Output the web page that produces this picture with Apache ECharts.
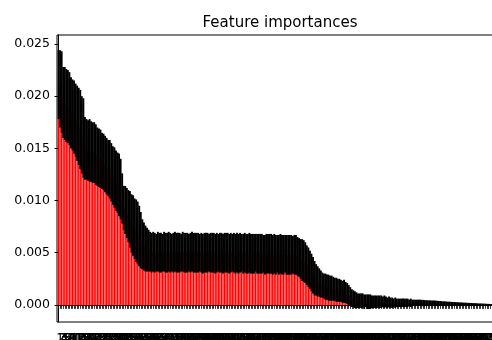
<!DOCTYPE html>
<html>
<head>
<meta charset="utf-8">
<script src="https://cdn.jsdelivr.net/npm/echarts@6/dist/echarts.min.js"></script>
<style>html,body{margin:0;padding:0;background:#fff}#c{width:492px;height:340px}</style>
</head>
<body>
<div id="c"></div>
<script>
// Sorted feature importances (mean)
const importances = [
  // 0-17
  0.0211,0.0207,0.0204,0.0194,0.0193,0.0191,0.0190,0.0188,0.0184,0.0182,
  0.0180,0.0177,0.0174,0.0171,0.0168,0.0163,0.0160,0.0150,
  // 18-41
  0.0149,0.0148,0.0148,0.0147,0.0146,0.0146,0.0144,0.0142,0.0141,0.0140,
  0.0138,0.0137,0.0135,0.0133,0.0131,0.0130,0.0127,0.0124,0.0122,0.0119,
  0.0117,0.0115,0.0111,0.0102,
  // 42-58
  0.0093,0.0091,0.0088,0.0085,0.0082,0.0078,0.0076,0.0073,0.0071,0.0069,
  0.0066,0.0062,0.0058,0.0056,0.0054,0.0053,0.0052,
  // 59-153
  0.0051,0.0050,0.0051,0.0050,0.0050,0.0051,0.0050,0.0050,0.0050,0.0051,
  0.0050,0.0050,0.0051,0.0050,0.0050,0.0050,0.0051,0.0050,0.0050,0.0050,
  0.0050,0.0051,0.0050,0.0050,0.0050,0.0050,0.0050,0.0051,0.0050,0.0050,
  0.0050,0.0050,0.0050,0.0050,0.0049,0.0050,0.0050,0.0050,0.0050,0.0050,
  0.0050,0.0050,0.0049,0.0050,0.0050,0.0050,0.0050,0.0049,0.0050,0.0050,
  0.0050,0.0049,0.0050,0.0050,0.0050,0.0049,0.0050,0.0049,0.0050,0.0050,
  0.0049,0.0050,0.0049,0.0049,0.0050,0.0049,0.0049,0.0049,0.0050,0.0049,
  0.0049,0.0049,0.0049,0.0049,0.0048,0.0049,0.0049,0.0049,0.0049,0.0048,
  0.0049,0.0048,0.0049,0.0048,0.0049,0.0048,0.0048,0.0049,0.0048,0.0048,
  0.0048,0.0048,0.0048,0.0048,0.0048,
  // 154-193
  0.00465,0.00455,0.0044,0.0043,0.0042,0.00405,0.0038,0.0036,0.00335,0.0031,
  0.00285,0.00255,0.0024,0.00225,0.00215,0.0020,0.0019,0.0018,0.00175,0.0017,
  0.00165,0.0016,0.0016,0.00155,0.0015,0.00145,0.0014,0.0014,0.00135,0.00125,
  0.0013,0.0012,0.0011,0.00095,0.0008,0.00065,0.0006,0.0005,0.00045,0.0004,
  // 194-279
  0.0004,0.0004,0.0004,0.0003,0.0004,0.0003,0.0003,0.0003,0.0003,0.0003,
  0.0003,0.0003,0.0003,0.0003,0.0003,0.0003,0.0003,0.0003,0.0002,0.0003,
  0.0002,0.0002,0.0002,0.0002,0.0002,0.0002,0.0002,0.0002,0.0002,0.0002,
  0.0002,0.0002,0.0002,0.0002,0.0002,0.0002,0.0002,0.0002,0.0002,0.0002,
  0.00018,0.00018,0.00018,0.00017,0.00017,0.00017,0.00016,0.00016,0.00016,0.00016,
  0.00015,0.00015,0.00015,0.00014,0.00014,0.00014,0.00013,0.00013,0.00013,0.00012,
  0.00012,0.00012,0.00011,0.00011,0.0001,0.0001,0.0001,0.00009,0.00009,0.00009,
  0.00008,0.00008,0.00008,0.00007,0.00007,0.00007,0.00006,0.00006,0.00006,0.00005,
  0.00005,0.00005,0.00004,0.00004,0.00003,0.00003
];
// Standard deviations (error bars)
const stdDev = [
  0.0033,0.0037,0.0039,0.0034,0.0035,0.0035,0.0035,0.0035,0.0034,0.0034,
  0.0035,0.0035,0.0036,0.0037,0.0038,0.0037,0.0038,0.0030,
  0.0029,0.0029,0.0030,0.0029,0.0029,0.0029,0.0029,0.0028,0.0028,0.0028,
  0.0027,0.0027,0.0027,0.0027,0.0027,0.0028,0.0028,0.0028,0.0029,0.0029,
  0.0029,0.0030,0.0029,0.0024,
  0.0021,0.0023,0.0024,0.0025,0.0027,0.0028,0.0029,0.0029,0.0030,0.0030,
  0.0029,0.0027,0.0024,0.0023,0.0022,0.0021,0.0020,
  0.0019,0.0019,0.0019,0.0019,0.0018,0.0019,0.0019,0.0019,0.0018,0.0019,
  0.0019,0.0019,0.0019,0.0019,0.0018,0.0019,0.0019,0.0019,0.0019,0.0019,
  0.0018,0.0019,0.0019,0.0019,0.0019,0.0018,0.0019,0.0019,0.0019,0.0019,
  0.0019,0.0019,0.0018,0.0019,0.0019,0.0019,0.0019,0.0019,0.0018,0.0019,
  0.0019,0.0019,0.0019,0.0019,0.0018,0.0019,0.0019,0.0019,0.0019,0.0019,
  0.0019,0.0019,0.0019,0.0018,0.0019,0.0019,0.0019,0.0019,0.0019,0.0018,
  0.0019,0.0019,0.0019,0.0019,0.0019,0.0019,0.0019,0.0019,0.0018,0.0019,
  0.0019,0.0019,0.0019,0.0018,0.0019,0.0019,0.0019,0.0019,0.0019,0.0019,
  0.0019,0.0019,0.0018,0.0019,0.0019,0.0019,0.0019,0.0018,0.0019,0.0019,
  0.0019,0.0019,0.0018,0.0019,0.0019,
  0.00185,0.00185,0.0019,0.0020,0.0020,0.00195,0.0019,0.0019,0.00185,0.0018,
  0.00175,0.00165,0.0015,0.00145,0.00135,0.0013,0.0012,0.0012,0.00125,0.0012,
  0.00125,0.0012,0.0012,0.00115,0.0011,0.00115,0.0011,0.0011,0.00105,0.00105,
  0.0011,0.0010,0.0010,0.00095,0.0009,0.00085,0.0008,0.0008,0.00075,0.0007,
  0.0007,0.0007,0.0007,0.0007,0.0006,0.0007,0.0007,0.0007,0.0006,0.0006,
  0.0006,0.0006,0.0006,0.0006,0.0006,0.0005,0.0006,0.0005,0.0005,0.0005,
  0.0005,0.0005,0.0004,0.0005,0.0004,0.0004,0.0004,0.0004,0.0004,0.0004,
  0.0004,0.0004,0.0003,0.0004,0.0003,0.0003,0.0003,0.0003,0.0003,0.0003,
  0.0003,0.0003,0.00028,0.00028,0.00027,0.00027,0.00026,0.00026,0.00025,0.00025,
  0.00024,0.00023,0.00022,0.00021,0.0002,0.0002,0.00019,0.00018,0.00018,0.00017,
  0.00016,0.00016,0.00015,0.00015,0.00014,0.00014,0.00013,0.00013,0.00012,0.00012,
  0.00011,0.00011,0.0001,0.0001,0.0001,0.00009,0.00009,0.00008,0.00008,0.00008,
  0.00007,0.00007,0.00006,0.00006,0.00005,0.00005
];
const yTicks = [0, 0.005, 0.010, 0.015, 0.020, 0.025];
const featurePositions = importances.map((_, i) => i);
const tickLabels = featurePositions.map(i => String(i));

const N = importances.length;
const FONT = 'DejaVu Sans';
const chart = echarts.init(document.getElementById('c'), null, {renderer: 'canvas'});
chart.setOption({
  animation: false,
  backgroundColor: '#fff',
  title: {
    text: 'Feature importances',
    left: 275, top: 11, textAlign: 'center',
    textStyle: {fontFamily: FONT, fontSize: 15, fontWeight: 'normal', color: '#000'}
  },
  grid: {left: 57, right: -1, top: 35, bottom: 18, show: true, borderColor: '#000', borderWidth: 1,
    containLabel: false, outerBoundsMode: 'none'},
  xAxis: {
    type: 'value', min: -1, max: N,
    splitLine: {show: false},
    axisLine: {show: true, lineStyle: {color: '#000', width: 1}},
    axisTick: {show: true, customValues: featurePositions, length: 4, lineStyle: {color: '#000', width: 0.8}},
    axisLabel: {show: true, customValues: featurePositions, formatter: v => tickLabels[v] ?? '',
      fontFamily: FONT, fontSize: 12, color: '#000', margin: 11}
  },
  yAxis: {
    type: 'value', min: -0.00164, max: 0.02586,
    splitLine: {show: false},
    axisLine: {show: true, lineStyle: {color: '#000', width: 1}},
    axisTick: {show: true, customValues: yTicks, length: 4, lineStyle: {color: '#000'}},
    axisLabel: {customValues: yTicks, formatter: v => v.toFixed(3), fontFamily: FONT, fontSize: 12.5, color: '#000', margin: 7}
  },
  series: [
    {
      type: 'custom', clip: true, z: 2,
      data: importances.map((v, i) => [featurePositions[i], v]),
      encode: {x: 0, y: 1},
      renderItem: (params, api) => {
        const x = api.value(0), v = api.value(1);
        const a = api.coord([x - 0.4, v]);
        const b = api.coord([x + 0.4, 0]);
        return {type: 'rect', shape: {x: a[0], y: Math.min(a[1], b[1]), width: b[0] - a[0], height: Math.abs(b[1] - a[1])},
          style: {fill: '#ff0000'}};
      }
    },
    {
      type: 'custom', clip: true, z: 3,
      data: importances.map((v, i) => [featurePositions[i], v, stdDev[i]]),
      encode: {x: 0, y: 1},
      renderItem: (params, api) => {
        const x = api.value(0), v = api.value(1), s = api.value(2);
        const top = api.coord([x, v + s]);
        const bot = api.coord([x, v - s]);
        return {type: 'line', shape: {x1: top[0], y1: top[1], x2: bot[0], y2: bot[1]},
          style: {stroke: '#000', lineWidth: 1.9}};
      }
    }
  ]
});
</script>
</body>
</html>
